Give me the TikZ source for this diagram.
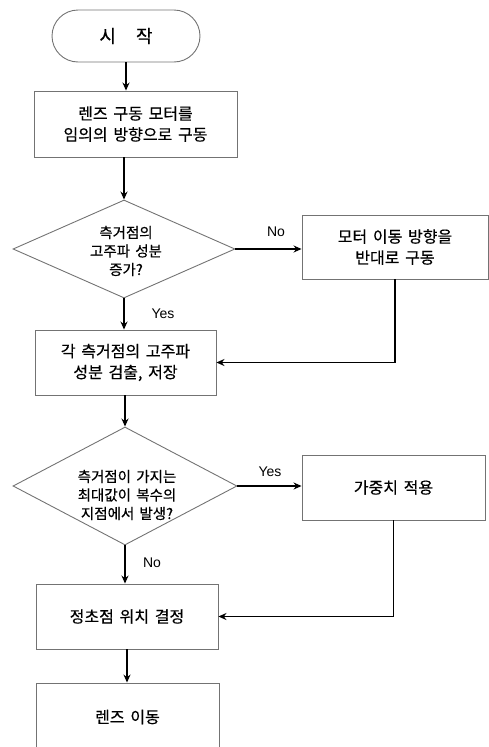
\documentclass[tikz,border=0pt]{standalone}
\usepackage{fontspec}
\usetikzlibrary{arrows.meta,shapes.geometric}
\newfontfamily\krbox[WordSpace=3,FakeBold=0.5]{Noto Sans CJK KR}
\newfontfamily\krdia[WordSpace=1.6,FakeBold=0.5]{Noto Sans CJK KR}
\setmainfont{Liberation Sans}
\tikzset{
  boxnode/.style={draw=black!55, line width=0.9pt, rectangle, inner sep=0pt,
     align=center, font=\krbox\fontsize{16}{21}\selectfont},
  dianode/.style={draw=black!55, line width=0.9pt, diamond, inner sep=0pt, text=black},
  diatext/.style={align=center, inner sep=0pt, font=\krdia\fontsize{14.5}{18.5}\selectfont},
  lab/.style={inner sep=0pt, font=\fontsize{14}{16}\selectfont},
  arr/.style={draw=black, line width=1.6pt, -{Stealth[length=8pt,width=7pt]}}
}
\begin{document}
\begin{tikzpicture}[x=1pt,y=-1pt]
\useasboundingbox (0,0) rectangle (489,747);
% nodes
\node[boxnode, rounded corners=26pt, minimum width=148pt, minimum height=52pt,
      font=\krbox\fontsize{18}{21}\selectfont] (start) at (126,36) {시\hspace{20pt}작};
\node[boxnode, minimum width=203pt, minimum height=66pt] (b1) at (135.5,124)
  {렌즈 구동 모터를\\임의의 방향으로 구동};
\node[dianode, minimum width=222pt, minimum height=98pt] (d1) at (124,249) {};
\node[diatext] (d1t) at (126,251) {측거점의\\고주파 성분\\증가?};
\node[boxnode, minimum width=186pt, minimum height=64pt] (b2) at (395,247)
  {모터 이동 방향을\\반대로 구동};
\node[boxnode, minimum width=181pt, minimum height=65pt] (b3) at (125.5,362.5)
  {각 측거점의 고주파\\성분 검출, 저장};
\node[dianode, minimum width=224pt, minimum height=118pt] (d2) at (125,486) {};
\node[diatext] (d2t) at (127,495) {측거점이 가지는\\최대값이 복수의\\지점에서 발생?};
\node[boxnode, minimum width=183pt, minimum height=65pt] (b4) at (393.5,487.5) {가중치 적용};
\node[boxnode, minimum width=182pt, minimum height=65pt] (b5) at (127,616.5) {정초점 위치 결정};
\node[boxnode, minimum width=183pt, minimum height=68pt] (b6) at (127.5,717) {렌즈 이동};
% labels
\node[lab] (no1) at (276,232) {No};
\node[lab] (yes1) at (163,314) {Yes};
\node[lab] (yes2) at (270,472) {Yes};
\node[lab] (no2) at (152,563) {No};
% connectors
\draw[arr] (start.south) -- (start.south |- b1.north);
\draw[arr] (d1.north |- b1.south) -- (d1.north);
\draw[arr] (d1.east) -- (d1.east -| b2.west);
\draw[arr] (d1.south) -- (d1.south |- b3.north);
\draw[arr] (b2.south) |- (b3.east);
\draw[arr] (b3.south -| d2.north) -- (d2.north);
\draw[arr] (d2.east) -- (d2.east -| b4.west);
\draw[arr] (d2.south) -- (d2.south |- b5.north);
\draw[arr] (b4.south) |- (b5.east);
\draw[arr] (b5.south) -- (b5.south |- b6.north);
\end{tikzpicture}
\end{document}
